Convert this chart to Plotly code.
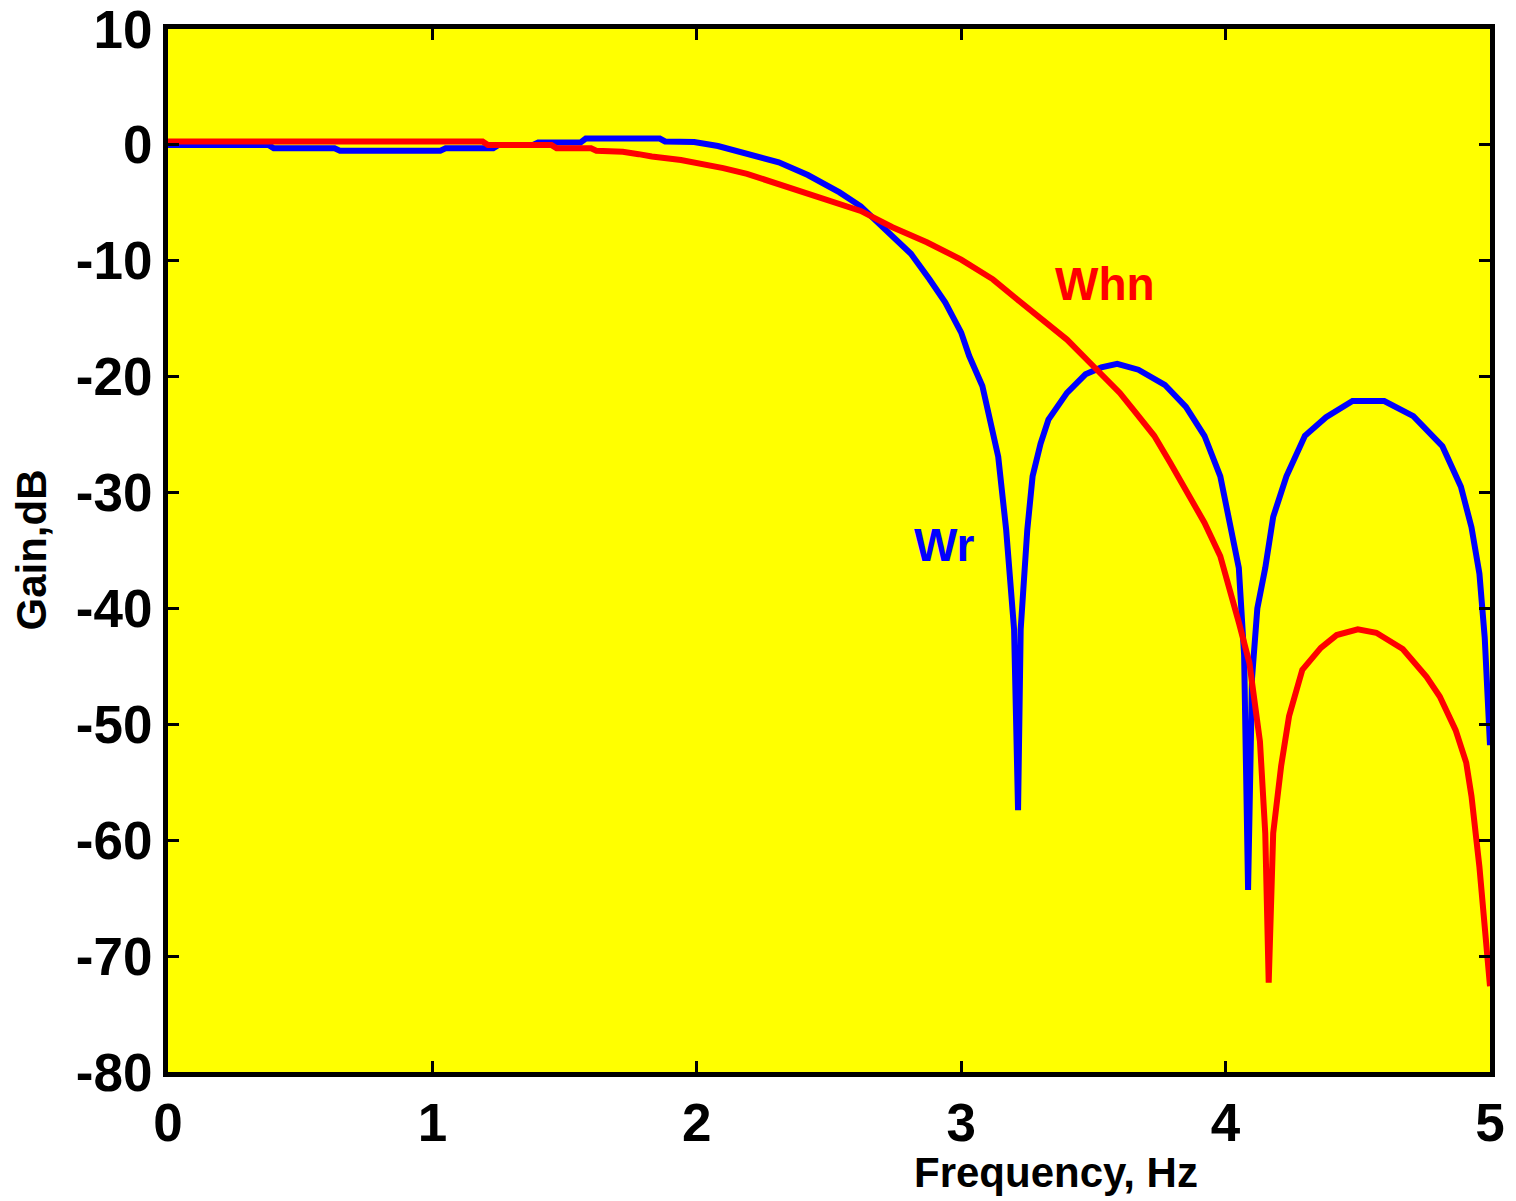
import plotly.graph_objects as go

# Wr (blue) frequency response
wr_freq = [0.00, 0.38, 0.40, 0.63, 0.65, 1.03, 1.05, 1.23, 1.25, 1.38, 1.40, 1.56, 1.58, 1.86, 1.88,
           1.99, 2.08, 2.13, 2.19, 2.31, 2.42, 2.54, 2.62, 2.69, 2.74, 2.81, 2.88, 2.94, 3.00, 3.03,
           3.08, 3.12, 3.14, 3.17, 3.20, 3.215, 3.225, 3.25, 3.27, 3.30, 3.33, 3.40, 3.47, 3.53, 3.59,
           3.67, 3.77, 3.85, 3.92, 3.98, 4.01, 4.05, 4.07, 4.085, 4.10, 4.12, 4.15, 4.18, 4.23, 4.30,
           4.38, 4.48, 4.60, 4.71, 4.82, 4.89, 4.93, 4.96, 4.98, 5.00]
wr_gain = [0.0, 0.0, -0.3, -0.3, -0.5, -0.5, -0.3, -0.3, 0.0, 0.0, 0.2, 0.2, 0.55, 0.55, 0.3,
           0.25, -0.1, -0.4, -0.8, -1.5, -2.6, -4.1, -5.3, -6.8, -7.9, -9.4, -11.6, -13.6, -16.2, -18.2,
           -20.8, -24.8, -26.9, -33.2, -41.8, -57.4, -41.8, -33.2, -28.6, -25.8, -23.7, -21.4, -19.8, -19.2, -18.9,
           -19.4, -20.7, -22.6, -25.1, -28.6, -32.1, -36.5, -44.0, -64.3, -46.0, -40.0, -36.5, -32.1, -28.6, -25.1,
           -23.5, -22.1, -22.1, -23.4, -26.0, -29.5, -33.0, -37.0, -42.5, -51.8]

# Whn (red) frequency response
whn_freq = [0.00, 1.19, 1.21, 1.45, 1.47, 1.60, 1.62, 1.72, 1.78, 1.83, 1.94, 1.99, 2.10, 2.19, 2.31,
            2.43, 2.54, 2.62, 2.74, 2.87, 3.00, 3.12, 3.21, 3.30, 3.40, 3.50, 3.60, 3.66, 3.73, 3.79,
            3.85, 3.92, 3.98, 4.01, 4.05, 4.09, 4.13, 4.15, 4.163, 4.18, 4.21, 4.24, 4.27, 4.29, 4.36,
            4.42, 4.50, 4.57, 4.67, 4.76, 4.81, 4.87, 4.91, 4.93, 4.96, 5.00]
whn_gain = [0.3, 0.3, 0.0, 0.0, -0.3, -0.3, -0.5, -0.6, -0.8, -1.0, -1.3, -1.5, -2.0, -2.5, -3.4,
            -4.3, -5.1, -5.7, -7.1, -8.4, -9.9, -11.6, -13.3, -14.9, -16.8, -19.1, -21.4, -23.1, -25.1, -27.4,
            -29.7, -32.6, -35.5, -37.8, -41.2, -44.7, -51.5, -59.4, -72.3, -59.4, -53.6, -49.3, -47.0, -45.3, -43.4,
            -42.3, -41.8, -42.1, -43.5, -45.9, -47.6, -50.5, -53.3, -56.2, -62.3, -72.6]

x_ticks = [0, 1, 2, 3, 4, 5]
y_ticks = [10, 0, -10, -20, -30, -40, -50, -60, -70, -80]

FONT = "Liberation Sans, Arial, sans-serif"

fig = go.Figure()
fig.add_trace(go.Scatter(x=wr_freq, y=wr_gain, mode="lines",
                         line=dict(color="#0000FF", width=6), showlegend=False))
fig.add_trace(go.Scatter(x=whn_freq, y=whn_gain, mode="lines",
                         line=dict(color="#FF0000", width=6), showlegend=False))

axis_common = dict(showline=True, linecolor="black", linewidth=5, mirror="ticks",
                   ticks="inside", ticklen=11, tickwidth=3, tickcolor="black",
                   showgrid=False, zeroline=False, ticklabeloverflow="allow",
                   automargin=False,
                   tickfont=dict(family=FONT, size=53, color="black", weight="bold"))

fig.update_xaxes(range=[0, 5], tickvals=x_ticks, ticktext=[str(t) for t in x_ticks], **axis_common)
fig.update_yaxes(range=[-80, 10.0001], tickvals=y_ticks, ticktext=[str(t) for t in y_ticks], **axis_common)

fig.add_annotation(x=3.544, y=-12.0, text="Whn", showarrow=False,
                   font=dict(family=FONT, size=46, color="#FF0000", weight="bold"))
fig.add_annotation(x=2.935, y=-34.5, text="Wr", showarrow=False,
                   font=dict(family=FONT, size=46, color="#0000FF", weight="bold"))
fig.add_annotation(x=0.672, y=-0.0959, xref="paper", yref="paper", text="Frequency, Hz",
                   showarrow=False, xanchor="center", yanchor="middle",
                   font=dict(family=FONT, size=42, color="black", weight="bold"))
fig.add_annotation(x=-0.1036, y=0.5, xref="paper", yref="paper", text="Gain,dB",
                   showarrow=False, textangle=-90, xanchor="center", yanchor="middle",
                   font=dict(family=FONT, size=42, color="black", weight="bold"))

fig.update_layout(width=1516, height=1201,
                  margin=dict(l=168, r=26, t=29, b=129),
                  plot_bgcolor="#FFFF00", paper_bgcolor="white")

fig.write_html("out.html")
